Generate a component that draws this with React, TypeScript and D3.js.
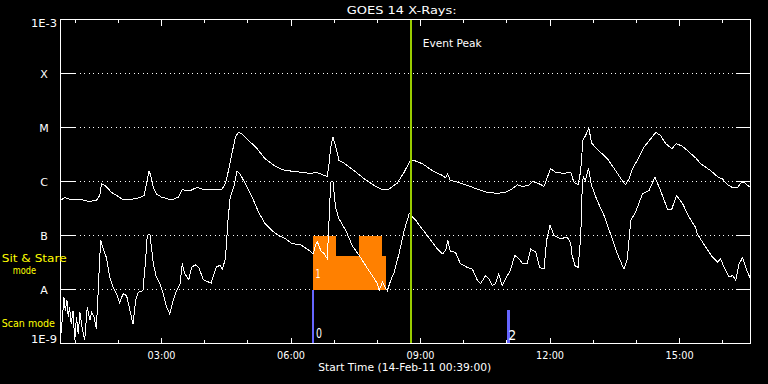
import React from "react";
import * as d3 from "d3";

// [hour of day, log10 flux (W/m^2)]
const longChannel: [number, number][] = [
  [0.67,-6.34],[0.76,-6.30],[0.91,-6.34],[1.18,-6.34],[1.30,-6.37],[1.49,-6.35],[1.57,-6.26],[1.61,-6.04],[1.69,-6.07],[1.84,-6.20],
  [2.00,-6.28],[2.11,-6.34],[2.30,-6.33],[2.50,-6.30],[2.60,-6.26],[2.65,-6.04],[2.71,-5.80],[2.75,-5.89],[2.81,-6.11],[2.88,-6.23],
  [3.00,-6.29],[3.23,-6.34],[3.39,-6.29],[3.48,-6.15],[3.58,-6.17],[3.66,-6.17],[3.82,-6.11],[3.97,-6.15],[4.17,-6.15],[4.40,-6.14],
  [4.48,-6.04],[4.55,-5.80],[4.63,-5.49],[4.71,-5.18],[4.78,-5.09],[4.86,-5.12],[5.02,-5.24],[5.21,-5.39],[5.40,-5.58],[5.60,-5.70],
  [5.79,-5.78],[6.02,-5.81],[6.25,-5.83],[6.45,-5.85],[6.59,-5.83],[6.69,-5.86],[6.84,-5.91],[6.88,-5.67],[6.92,-5.36],[6.97,-5.18],
  [7.03,-5.33],[7.11,-5.61],[7.23,-5.66],[7.46,-5.80],[7.73,-5.97],[7.96,-6.09],[8.12,-6.15],[8.27,-6.14],[8.46,-6.03],[8.62,-5.83],
  [8.74,-5.64],[8.85,-5.61],[9.04,-5.67],[9.28,-5.80],[9.51,-5.89],[9.58,-5.93],[9.63,-5.86],[9.69,-5.98],[9.85,-6.01],[10.08,-6.07],
  [10.31,-6.14],[10.54,-6.20],[10.78,-6.22],[10.97,-6.20],[11.12,-6.14],[11.24,-6.06],[11.36,-6.09],[11.51,-6.07],[11.59,-6.00],[11.74,-6.04],
  [11.86,-6.09],[11.94,-5.92],[12.01,-5.76],[12.13,-5.83],[12.32,-5.85],[12.48,-5.83],[12.55,-6.01],[12.65,-6.06],[12.71,-5.80],[12.76,-5.24],
  [12.82,-5.15],[12.90,-5.01],[12.96,-5.29],[13.13,-5.43],[13.33,-5.58],[13.52,-5.80],[13.67,-5.98],[13.75,-6.06],[13.83,-5.95],[13.91,-5.76],
  [14.02,-5.61],[14.18,-5.36],[14.33,-5.21],[14.45,-5.09],[14.56,-5.15],[14.68,-5.30],[14.82,-5.39],[14.93,-5.30],[15.07,-5.35],[15.37,-5.56],
  [15.49,-5.67],[15.72,-5.80],[15.91,-5.93],[15.99,-5.95],[16.11,-6.06],[16.22,-6.11],[16.34,-6.11],[16.42,-6.03],[16.49,-6.01],[16.57,-6.07],[16.65,-6.11]
];

const shortChannel: [number, number][] = [
  [0.67,-8.82],[0.70,-8.57],[0.74,-8.14],[0.77,-8.39],[0.81,-8.20],[0.84,-8.51],[0.87,-8.33],[0.91,-8.64],[0.95,-8.39],[0.99,-8.94],
  [1.03,-8.51],[1.07,-8.82],[1.11,-8.42],[1.16,-8.70],[1.22,-8.94],[1.28,-8.33],[1.34,-8.57],[1.38,-8.42],[1.44,-8.51],[1.49,-8.73],
  [1.53,-8.08],[1.57,-7.40],[1.59,-7.09],[1.65,-7.25],[1.72,-7.40],[1.80,-7.77],[1.88,-7.96],[1.96,-8.08],[2.03,-8.24],[2.11,-8.08],
  [2.19,-8.11],[2.27,-8.39],[2.34,-8.64],[2.40,-8.20],[2.46,-8.05],[2.57,-8.02],[2.63,-7.46],[2.67,-7.00],[2.73,-6.97],[2.81,-7.52],
  [2.88,-7.77],[2.96,-7.89],[3.04,-8.08],[3.12,-8.33],[3.19,-8.45],[3.27,-8.20],[3.35,-8.02],[3.43,-7.89],[3.48,-7.52],[3.54,-7.71],
  [3.63,-7.82],[3.70,-7.59],[3.78,-7.54],[3.86,-7.59],[3.97,-7.82],[4.05,-7.85],[4.15,-7.88],[4.21,-7.72],[4.28,-7.57],[4.36,-7.56],
  [4.41,-7.62],[4.48,-7.43],[4.54,-6.72],[4.59,-6.29],[4.67,-6.11],[4.75,-5.81],[4.82,-5.86],[4.94,-6.04],[5.10,-6.29],[5.25,-6.57],
  [5.40,-6.78],[5.56,-6.91],[5.71,-7.00],[5.87,-7.06],[6.02,-7.15],[6.22,-7.17],[6.37,-7.25],[6.52,-7.34],[6.56,-7.19],[6.61,-7.12],
  [6.69,-7.28],[6.77,-7.34],[6.84,-7.43],[6.88,-6.72],[6.92,-6.01],[6.97,-5.99],[7.03,-6.48],[7.11,-6.69],[7.27,-6.91],[7.42,-7.19],
  [7.58,-7.37],[7.73,-7.56],[7.88,-7.74],[8.00,-7.89],[8.04,-8.02],[8.12,-7.86],[8.18,-7.96],[8.23,-8.02],[8.31,-7.83],[8.39,-7.68],
  [8.50,-7.34],[8.62,-6.91],[8.74,-6.59],[8.89,-6.72],[9.04,-6.88],[9.24,-7.09],[9.39,-7.25],[9.51,-7.34],[9.58,-7.28],[9.63,-7.09],
  [9.69,-7.29],[9.81,-7.31],[9.92,-7.52],[10.08,-7.59],[10.20,-7.62],[10.31,-7.82],[10.39,-7.89],[10.51,-7.74],[10.58,-7.80],[10.66,-7.93],
  [10.74,-7.89],[10.81,-7.71],[10.89,-7.93],[10.97,-7.80],[11.08,-7.65],[11.18,-7.37],[11.28,-7.43],[11.36,-7.52],[11.47,-7.52],[11.55,-7.25],
  [11.67,-7.31],[11.76,-7.59],[11.86,-7.62],[11.92,-7.09],[12.00,-6.81],[12.09,-7.00],[12.24,-7.06],[12.40,-7.03],[12.48,-7.15],[12.50,-7.34],
  [12.58,-7.56],[12.65,-7.59],[12.71,-7.03],[12.75,-5.98],[12.78,-5.92],[12.82,-5.98],[12.89,-5.76],[12.96,-6.07],[13.09,-6.35],[13.25,-6.63],
  [13.40,-6.97],[13.56,-7.34],[13.71,-7.62],[13.79,-7.43],[13.87,-6.72],[13.98,-6.57],[14.14,-6.23],[14.29,-6.17],[14.43,-5.92],[14.56,-6.17],
  [14.72,-6.51],[14.82,-6.51],[14.93,-6.26],[15.07,-6.41],[15.22,-6.66],[15.37,-6.85],[15.41,-6.97],[15.61,-7.22],[15.76,-7.40],[15.88,-7.49],
  [15.95,-7.43],[16.03,-7.59],[16.15,-7.77],[16.23,-7.74],[16.30,-7.83],[16.38,-7.52],[16.46,-7.41],[16.53,-7.59],[16.65,-7.82]
];

const fluxLevels = [-3, -4, -5, -6, -7, -8, -9];
const fluxLabels = ["1E-3", "X", "M", "C", "B", "A", "1E-9"];
const hourTicks = [1, 2, 3, 4, 5, 6, 7, 8, 9, 10, 11, 12, 13, 14, 15, 16];
const majorHours = [3, 6, 9, 12, 15];
const majorLabels = ["03:00", "06:00", "09:00", "12:00", "15:00"];
// [start hour, end hour, top log flux]
const stareBlocks: [number, number, number][] = [
  [6.52, 7.05, -7], [7.05, 7.57, -7.38], [7.57, 8.10, -7], [8.10, 8.21, -7.38]
];
const stareFloor = -8;
const stareLabel = "1";
// [hour, top log flux, label]
const scanMarks: [number, number, string][] = [[6.52, -8, "0"], [11.03, -8.38, "2"]];
const eventPeakHour = 8.79;
const titleText = "GOES 14 X-Rays:";
const xTitle = "Start Time (14-Feb-11 00:39:00)";

const W = 768, H = 384;
const L = 60.5, R = 750.5, T = 19.5, B = 343.5;
const FONT = "DejaVu Sans, sans-serif";
const FW = 400;

export default function App() {
  const x = d3.scaleLinear().domain([0.66, 16.643]).range([L, R]);
  const y = d3.scaleLinear().domain([-3, -9]).range([T, B]);
  const line = d3.line<[number, number]>().x(d => x(d[0])).y(d => y(d[1]));
  const px = (v: number) => Math.floor(v) + 0.5;

  return (
    <div style={{ position: "fixed", left: 0, top: 0 }}>
      <svg width={W} height={H} style={{ display: "block", background: "#000" }}>
        <rect x={0} y={0} width={W} height={H} fill="#000" />
        <defs>
          <clipPath id="plot">
            <rect x={L} y={T} width={R - L} height={B - T} />
          </clipPath>
        </defs>
        {/* gridlines */}
        {fluxLevels.slice(1, 6).map(l => (
          <line key={"g" + l} x1={75} x2={736} y1={px(y(l))} y2={px(y(l))}
            stroke="#fff" strokeWidth={1} strokeDasharray="1 3.5" shapeRendering="crispEdges" />
        ))}
        {/* stare blocks */}
        <g clipPath="url(#plot)">
          {stareBlocks.map((b, i) => (
            <rect key={"s" + i} x={Math.round(x(b[0]))} width={Math.round(x(b[1])) - Math.round(x(b[0]))}
              y={Math.round(y(b[2]))} height={Math.round(y(stareFloor)) - Math.round(y(b[2]))}
              fill="#ff8000" shapeRendering="crispEdges" />
          ))}
        </g>
        <text x={x(stareBlocks[0][0]) + 2} y={278} fill="#fff" fontFamily={FONT} fontWeight={FW} fontSize={13}
          textLength={5} lengthAdjust="spacingAndGlyphs">{stareLabel}</text>
        {/* scan marks */}
        {scanMarks.map((s, i) => (
          <g key={"m" + i}>
            <rect x={Math.round(x(s[0])) - 1} width={2 + i} y={Math.round(y(s[1]))}
              height={B - Math.round(y(s[1]))} fill="#6666ff" shapeRendering="crispEdges" />
            <text x={x(s[0]) + (i === 0 ? 2.5 : 0)} y={i === 0 ? 338 : 340} fill="#fff" fontFamily={FONT}
              fontWeight={FW} fontSize={14} textLength={i === 0 ? 6 : 8} lengthAdjust="spacingAndGlyphs">{s[2]}</text>
          </g>
        ))}
        {/* curves */}
        <g clipPath="url(#plot)">
          <path d={line(longChannel) || ""} fill="none" stroke="#fff" strokeWidth={1} shapeRendering="crispEdges" />
          <path d={line(shortChannel) || ""} fill="none" stroke="#fff" strokeWidth={1} shapeRendering="crispEdges" />
        </g>
        {/* event peak */}
        <rect x={Math.round(x(eventPeakHour)) - 1} width={2} y={T - 0.5} height={B - T + 0.5}
          fill="#99cc00" shapeRendering="crispEdges" />
        <text x={422.7} y={46.5} fill="#fff" fontFamily={FONT} fontWeight={FW} fontSize={11}
          textLength={59} lengthAdjust="spacingAndGlyphs">Event Peak</text>
        {/* frame */}
        <rect x={L} y={T} width={R - L} height={B - T} fill="none" stroke="#fff" strokeWidth={1}
          shapeRendering="crispEdges" />
        {/* y ticks */}
        {fluxLevels.map(l => (
          <g key={"yt" + l}>
            <line x1={L} x2={75} y1={px(y(l))} y2={px(y(l))} stroke="#fff" shapeRendering="crispEdges" />
            <line x1={736} x2={R} y1={px(y(l))} y2={px(y(l))} stroke="#fff" shapeRendering="crispEdges" />
          </g>
        ))}
        {/* x ticks */}
        {hourTicks.map(h => {
          const len = majorHours.includes(h) ? 6 : 3.5;
          const xx = px(x(h));
          return (
            <g key={"xt" + h}>
              <line x1={xx} x2={xx} y1={T} y2={T + len} stroke="#fff" shapeRendering="crispEdges" />
              <line x1={xx} x2={xx} y1={B} y2={B - len} stroke="#fff" shapeRendering="crispEdges" />
            </g>
          );
        })}
        {majorHours.map((h, i) => (
          <text key={"xl" + h} x={x(h)} y={359} fill="#fff" fontFamily={FONT} fontWeight={FW} fontSize={11}
            textAnchor="middle" textLength={28} lengthAdjust="spacingAndGlyphs">{majorLabels[i]}</text>
        ))}
        {/* y labels */}
        {fluxLevels.map((l, i) => {
          const isEnd = i === 0 || i === fluxLevels.length - 1;
          const by = i === 0 ? 27 : i === fluxLevels.length - 1 ? 343 : y(l) + 4;
          return isEnd ? (
            <text key={"yl" + l} x={57} y={by} fill="#fff" fontFamily={FONT} fontWeight={FW} fontSize={11}
              textAnchor="end" textLength={26} lengthAdjust="spacingAndGlyphs">{fluxLabels[i]}</text>
          ) : (
            <text key={"yl" + l} x={44} y={by} fill="#fff" fontFamily={FONT} fontWeight={FW} fontSize={11}
              textAnchor="middle">{fluxLabels[i]}</text>
          );
        })}
        {/* titles */}
        <text x={346.7} y={13.5} fill="#fff" fontFamily={FONT} fontWeight={FW} fontSize={11}
          textLength={110} lengthAdjust="spacingAndGlyphs">{titleText}</text>
        <text x={318.3} y={371} fill="#fff" fontFamily={FONT} fontWeight={FW} fontSize={11}
          textLength={173} lengthAdjust="spacingAndGlyphs">{xTitle}</text>
        {/* mode labels */}
        <text x={1.7} y={262} fill="#ffff00" fontFamily={FONT} fontWeight={FW} fontSize={11}
          textLength={65} lengthAdjust="spacingAndGlyphs">Sit &amp; Stare</text>
        <text x={12.7} y={274} fill="#ffff00" fontFamily={FONT} fontWeight={FW} fontSize={11}
          textLength={23.3} lengthAdjust="spacingAndGlyphs">mode</text>
        <text x={1.7} y={327} fill="#ffff00" fontFamily={FONT} fontWeight={FW} fontSize={11}
          textLength={53.3} lengthAdjust="spacingAndGlyphs">Scan mode</text>
      </svg>
    </div>
  );
}
